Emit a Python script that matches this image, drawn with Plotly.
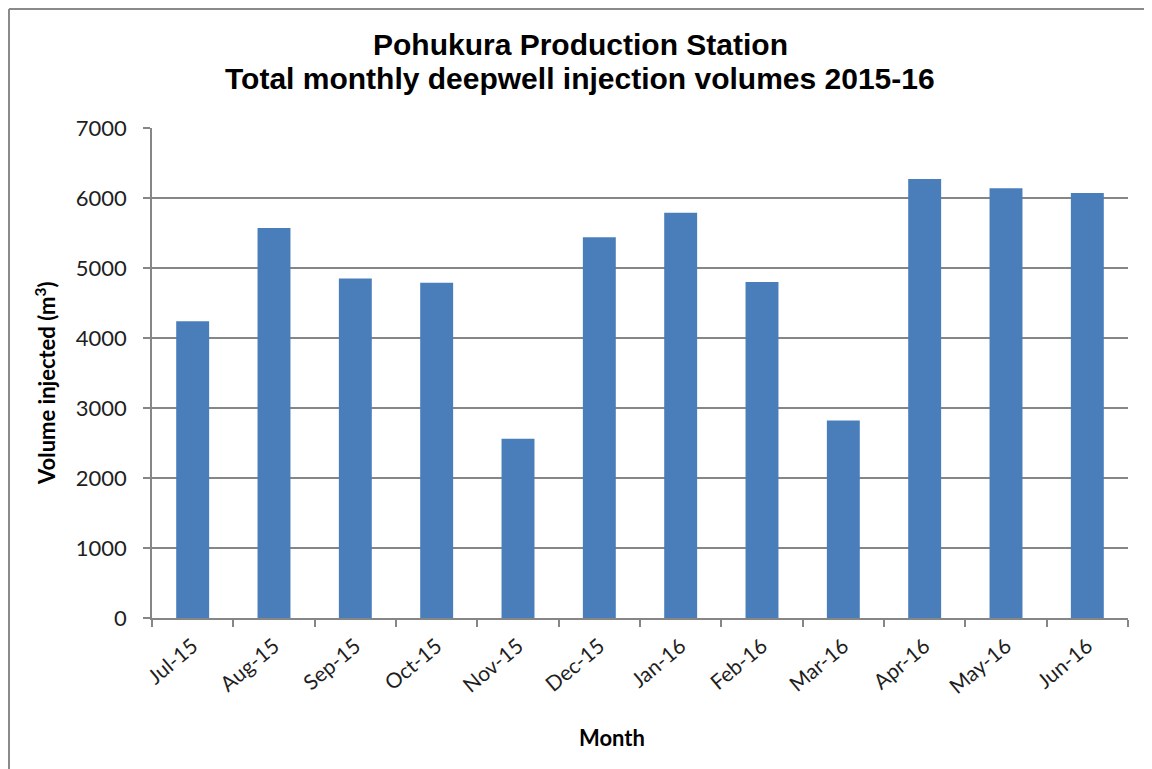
import plotly.graph_objects as go

months = ["Jul-15", "Aug-15", "Sep-15", "Oct-15", "Nov-15", "Dec-15",
          "Jan-16", "Feb-16", "Mar-16", "Apr-16", "May-16", "Jun-16"]
volumes = [4240, 5570, 4850, 4790, 2560, 5440, 5790, 4800, 2820, 6270, 6140, 6070]
y_ticks = [0, 1000, 2000, 3000, 4000, 5000, 6000, 7000]

title_line1 = "Pohukura Production Station"
title_line2 = "Total monthly deepwell injection volumes 2015-16"
x_title = "Month"
y_title = "Volume injected (m<sup>3</sup>)"

# page body has an 8px margin: work in reference pixel coords, shifted by OFF
OFF = 8
W, H = 1152, 769
L, R, T = 152 - OFF, 24 + OFF, 128 - OFF
ph = 490
B = H - T - ph
pw = W - L - R


def px(x):
    return (x - OFF - L) / pw


def py(y):
    return (T + ph - (y - OFF)) / ph


GRAY = "#868686"
TXT = "#1e1e1e"

fig = go.Figure(go.Bar(x=months, y=volumes, marker=dict(color="#4A7EBB", line=dict(width=0))))

fig.update_layout(
    width=W, height=H,
    margin=dict(l=L, r=R, t=T, b=B),
    paper_bgcolor="white", plot_bgcolor="white",
    bargap=0.595,
    showlegend=False,
    font=dict(family="Lato", color=TXT),
)
fig.update_xaxes(
    type="category", tickson="boundaries", ticks="outside", ticklen=7,
    tickcolor=GRAY, tickwidth=1.5, showline=True, linecolor=GRAY, linewidth=1.5,
    showgrid=False, tickangle=-40, ticklabelstandoff=6,
    tickfont=dict(family="Lato", size=21, color=TXT),
)
fig.update_yaxes(
    range=[0, 7000], tickvals=y_ticks, ticks="outside", ticklen=7,
    tickcolor=GRAY, tickwidth=1.5, showline=True, linecolor=GRAY, linewidth=1.5,
    showgrid=True, gridcolor=GRAY, gridwidth=1.5, zeroline=False,
    ticklabelstandoff=12, tickfont=dict(family="Lato", size=22, color=TXT),
)

annotations = [
    dict(text=title_line1, x=px(580), y=py(45)),
    dict(text=title_line2, x=px(580), y=py(78)),
]
for a in annotations:
    a.update(xref="paper", yref="paper", showarrow=False, xanchor="center", yanchor="middle",
             font=dict(family="Liberation Sans", size=30, color="black"))
    a["text"] = "<b>" + a["text"] + "</b>"
annotations.append(dict(text="<b>" + x_title + "</b>", x=px(612), y=py(737), xref="paper", yref="paper",
                        showarrow=False, xanchor="center", yanchor="middle",
                        font=dict(family="Lato", size=22, color="black")))
annotations.append(dict(text="<b>" + y_title + "</b>", x=px(45), y=py(383), xref="paper", yref="paper",
                        showarrow=False, xanchor="center", yanchor="middle", textangle=-90,
                        font=dict(family="Lato", size=22, color="black")))
fig.update_layout(annotations=annotations)

edge = OFF + 1
fig.add_shape(type="line", xref="paper", yref="paper", x0=px(edge), x1=px(W + OFF), y0=py(edge), y1=py(edge),
              line=dict(color="#8a8a8a", width=2))
fig.add_shape(type="line", xref="paper", yref="paper", x0=px(edge), x1=px(edge), y0=py(edge), y1=py(H + OFF),
              line=dict(color="#8a8a8a", width=2))

fig.write_html("out.html")
